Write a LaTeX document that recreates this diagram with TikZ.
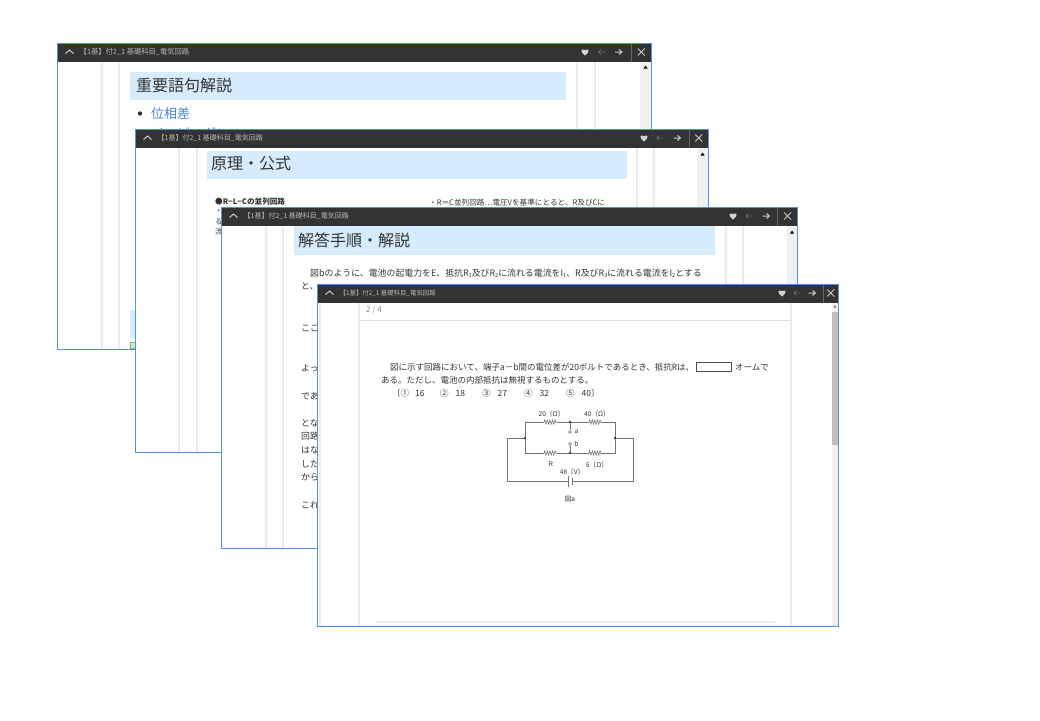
\documentclass[tikz,border=0pt]{standalone}
\usepackage{fontspec}
\setmainfont{Noto Sans CJK JP}
\usetikzlibrary{decorations.pathmorphing}
\definecolor{framecol}{HTML}{4F94D8}
\definecolor{barcol}{HTML}{333333}
\definecolor{headcol}{HTML}{D6ECFD}
\definecolor{stripecol}{HTML}{EBEBEB}
\definecolor{trackcol}{HTML}{F0F0F0}
\definecolor{inkcol}{HTML}{333333}
\tikzset{
  winbody/.style={draw=framecol,fill=white,line width=1pt},
  winbar/.style={fill=barcol},
  wintitle/.style={anchor=west,text=black!28,font=\fontsize{7}{8}\selectfont,inner sep=0pt},
  baricon/.style={draw=black!22,line width=1pt},
  stripe/.style={draw=stripecol,line width=2.2pt},
  headbox/.style={fill=headcol},
  headtext/.style={anchor=west,text=inkcol,font=\fontsize{16}{18}\selectfont,inner sep=0pt},
  bodytext/.style={anchor=west,text=inkcol,font=\fontsize{8.9}{10}\selectfont,inner sep=0pt},
  sheettext/.style={anchor=west,text=inkcol,font=\fontsize{8.5}{10}\selectfont,inner sep=0pt},
  partlabel/.style={text=inkcol,font=\fontsize{6.6}{7}\selectfont,inner sep=0pt},
  wire/.style={draw=black!55,line width=.55pt},
  resistor/.style={wire,decorate,decoration={zigzag,segment length=2.6pt,amplitude=2.2pt}},
  solder/.style={circle,fill=black,inner sep=0pt,minimum size=2.2pt},
  terminal/.style={circle,draw=black!55,fill=white,line width=.5pt,inner sep=0pt,minimum size=3pt},
}
\newcommand{\subnum}[1]{\raisebox{-1pt}{\fontsize{5.5}{6}\selectfont #1}}
% one window: name, left, top, right, bottom, then x of heart, back, forward, bar divider
\newcommand{\drawwin}[9]{
  \draw[winbody] (#2,#3) rectangle (#4,#5);
  \fill[winbar] (#2+.5,#3+.5) rectangle (#4-.5,#3+18);
  \node[wintitle] (#1title) at (#2+22,#3+8.8) {【1基】付2\_1 基礎科目\_電気回路};
  \draw[baricon] (#2+8,#3+10) -- (#2+12,#3+6.5) -- (#2+16,#3+10);
  \fill[black!18] (#6,#3+12) .. controls (#6-5,#3+8.5) and (#6-4.5,#3+4.5) .. (#6,#3+6.5)
    .. controls (#6+4.5,#3+4.5) and (#6+5,#3+8.5) .. cycle;
  \draw[draw=black!60,line width=.7pt] (#7+3.5,#3+8.5) -- (#7-3.5,#3+8.5) (#7-.5,#3+6) -- (#7-3.5,#3+8.5) -- (#7-.5,#3+11);
  \draw[baricon] (#8-3.5,#3+8.5) -- (#8+3.5,#3+8.5) (#8+.5,#3+6) -- (#8+3.5,#3+8.5) -- (#8+.5,#3+11);
  \draw[draw=black!60,line width=.6pt] (#9,#3+.5) -- (#9,#3+18);
  \draw[baricon] (#9/2+#4/2-3.5,#3+5) -- (#9/2+#4/2+3.5,#3+12) (#9/2+#4/2-3.5,#3+12) -- (#9/2+#4/2+3.5,#3+5);
}
\begin{document}
\begin{tikzpicture}[x=1pt,y=-1pt]
  \useasboundingbox (0,0) rectangle (1040,720);
  % first window
  \begin{scope}[wintitle/.append style={font=\fontsize{7.3}{8}\selectfont}]
    \drawwin{one}{57.5}{43.5}{651.5}{349.5}{585}{601.5}{618.5}{631}
  \end{scope}
  \fill[trackcol] (640,61.5) rectangle (651,349);
  \fill (645.5,65.5) -- (643.5,68.5) -- (647.5,68.5) -- cycle;
  \draw[stripe] (102,62) -- (102,349);
  \draw[stripe] (119,62) -- (119,349);
  \draw[stripe] (577,62) -- (577,349);
  \draw[stripe] (595,62) -- (595,349);
  \fill[headbox] (130,72) rectangle (566,100);
  \node[headtext] (onehead) at (136,85.5) {重要語句解説};
  \fill[inkcol] (140,113.5) circle (2.2);
  \node[anchor=west,text=framecol!90!blue,font=\fontsize{13}{15}\selectfont,inner sep=0pt] (oneitem) at (151,113.5) {位相差};
  \node[anchor=west,text=framecol!90!blue,font=\fontsize{13}{15}\selectfont,inner sep=0pt] (onenext) at (151,133) {インピーダンス};
  \fill[headbox] (130,310) rectangle (136,338);
  \fill[green!30,draw=black!40] (130.5,342) rectangle (136,348);
  % second window
  \drawwin{two}{135.5}{129.5}{708.5}{452.5}{644}{660}{677}{689}
  \fill[trackcol] (697,148) rectangle (708,452);
  \fill (702.5,152.5) -- (700.5,155.5) -- (704.5,155.5) -- cycle;
  \draw[stripe] (179,148) -- (179,452);
  \draw[stripe] (197,148) -- (197,452);
  \draw[stripe] (637,148) -- (637,452);
  \draw[stripe] (654,148) -- (654,452);
  \fill[headbox] (207,151) rectangle (627,179);
  \node[headtext] (twohead) at (211,163.5) {原理・公式};
  \node[bodytext,font=\fontsize{7.6}{9}\selectfont\bfseries] (twosub) at (215,201.5) {●R−L−Cの並列回路};
  \node[bodytext,font=\fontsize{7.3}{9}\selectfont] (twoa) at (215,212) {・};
  \node[bodytext,font=\fontsize{7.3}{9}\selectfont] (twob) at (215,222) {る};
  \node[bodytext,font=\fontsize{7.3}{9}\selectfont] (twoc) at (215,232) {流};
  \node[bodytext,font=\fontsize{7.6}{9}\selectfont] (twoside) at (429,203) {・R＝C並列回路…電圧Vを基準にとると、R及びCに};
  % third window
  \drawwin{three}{221.5}{207.5}{797.5}{548.5}{733}{749}{766}{777.5}
  \fill[trackcol] (787,226) rectangle (797,548);
  \fill (792,230.5) -- (790,233.5) -- (794,233.5) -- cycle;
  \draw[stripe] (266,226) -- (266,548);
  \draw[stripe] (283,226) -- (283,548);
  \draw[stripe] (726,226) -- (726,548);
  \draw[stripe] (743,226) -- (743,548);
  \fill[headbox] (294,226) rectangle (715,255);
  \node[headtext] (threehead) at (298,240.5) {解答手順・解説};
  \node[bodytext] (threea) at (310,273) {図bのように、電池の起電力をE、抵抗R\subnum{1}及びR\subnum{2}に流れる電流をI\subnum{1}、R及びR\subnum{3}に流れる電流をI\subnum{2}とする};
  \node[bodytext] (threeb) at (301,286.5) {と、};
  \node[bodytext] (threec) at (301,328) {ここ};
  \node[bodytext] (threed) at (301,368) {よっ};
  \node[bodytext] (threee) at (301,396) {であ};
  \node[bodytext] (threef) at (301,423) {とな};
  \node[bodytext] (threeg) at (301,436.5) {回路};
  \node[bodytext] (threeh) at (301,450) {はな};
  \node[bodytext] (threei) at (301,464) {した};
  \node[bodytext] (threej) at (301,477) {から};
  \node[bodytext] (threek) at (301,505) {これ};
  % fourth window
  \begin{scope}[wintitle/.append style={font=\fontsize{6.4}{7}\selectfont}]
    \drawwin{four}{317.5}{284.5}{838.5}{626.5}{782}{797}{812}{823}
  \end{scope}
  \fill[trackcol] (832,303) rectangle (838,626);
  \fill[black!25] (832,312) rectangle (838,445);
  \fill[black!50] (835,305) -- (833.5,307.5) -- (836.5,307.5) -- cycle;
  \draw[stripe,line width=1.5pt] (320,303) -- (320,626);
  \draw[stripe,line width=1.5pt] (359,303) -- (359,626);
  \draw[stripe,line width=1.5pt] (791,303) -- (791,626);
  \draw[draw=black!13,line width=1.6pt] (359,320.5) -- (791,320.5);
  \draw[draw=black!7,line width=1.2pt] (375,622) -- (775,622);
  \node[anchor=west,text=black!45,font=\fontsize{8}{9}\selectfont,inner sep=0pt] (fourpage) at (366,310.5) {2 / 4};
  \node[sheettext] (fourq) at (390,367) {図に示す回路において、端子a－b間の電位差が20ボルトであるとき、抵抗Rは、};
  \node[draw=black!70,line width=.9pt,minimum width=35pt,minimum height=9pt,inner sep=0pt] (fourblank) at (713.5,366.5) {};
  \node[sheettext] (fourunit) at (735,367) {オームで};
  \node[sheettext] (fourr) at (381,380.5) {ある。ただし、電池の内部抵抗は無視するものとする。};
  \node[sheettext] (fourc) at (392,393.5) {〔①\hspace{6pt}16};
  \node[sheettext] (fourd) at (440,393.5) {②\hspace{7pt}18};
  \node[sheettext] (foure) at (482,393.5) {③\hspace{7pt}27};
  \node[sheettext] (fourf) at (524,393.5) {④\hspace{7pt}32};
  \node[sheettext] (fourg) at (566,393.5) {⑤\hspace{7pt}40〕};
  % circuit
  \node[solder] (wl) at (525,438) {};
  \node[solder] (wr) at (615,438) {};
  \node[solder] (mt) at (570,422) {};
  \node[solder] (mb) at (570,453) {};
  \node[terminal] (ta) at (570,432) {};
  \node[terminal] (tb) at (570,444) {};
  \coordinate (lt) at (525,422);
  \coordinate (rt) at (615,422);
  \coordinate (lb) at (525,453);
  \coordinate (rb) at (615,453);
  \coordinate (ol) at (507,438);
  \coordinate (or) at (633,438);
  \coordinate (obl) at (507,481);
  \coordinate (obr) at (633,481);
  \coordinate (r1a) at (544,422);
  \coordinate (r1b) at (557,422);
  \coordinate (r2a) at (589,422);
  \coordinate (r2b) at (601,422);
  \coordinate (r3a) at (544,453);
  \coordinate (r3b) at (557,453);
  \coordinate (r4a) at (589,453);
  \coordinate (r4b) at (601,453);
  \coordinate (bl) at (568.5,481);
  \coordinate (br) at (572,481);
  \begin{scope}[wire]
    \draw (wl) to (lt) to (r1a);
    \draw (r1b) to (mt) to (r2a);
    \draw (r2b) to (rt) to (wr);
    \draw (wl) to (lb) to (r3a);
    \draw (r3b) to (mb) to (r4a);
    \draw (r4b) to (rb) to (wr);
    \draw (wl) to (ol) to (obl) to (bl);
    \draw (wr) to (or) to (obr) to (br);
    \draw (mt) to (ta);
    \draw (mb) to (tb);
    \draw (568.5,475.5) to (568.5,487);
    \draw[line width=1pt] (572,478) to (572,484.5);
  \end{scope}
  \draw[resistor] (r1a) -- (r1b);
  \draw[resistor] (r2a) -- (r2b);
  \draw[resistor] (r3a) -- (r3b);
  \draw[resistor] (r4a) -- (r4b);
  \node[partlabel] (l20) at (551.5,414) {20〔Ω〕};
  \node[partlabel] (l40) at (597,414) {40〔Ω〕};
  \node[partlabel] (la) at (576.5,432) {a};
  \node[partlabel] (lb2) at (576.5,444) {b};
  \node[partlabel] (lR) at (551,464.5) {R};
  \node[partlabel] (l6) at (597,464.5) {6〔Ω〕};
  \node[partlabel] (l48) at (572,472) {48〔V〕};
  \node[partlabel] (lfig) at (570,499.5) {図a};
\end{tikzpicture}
\end{document}
